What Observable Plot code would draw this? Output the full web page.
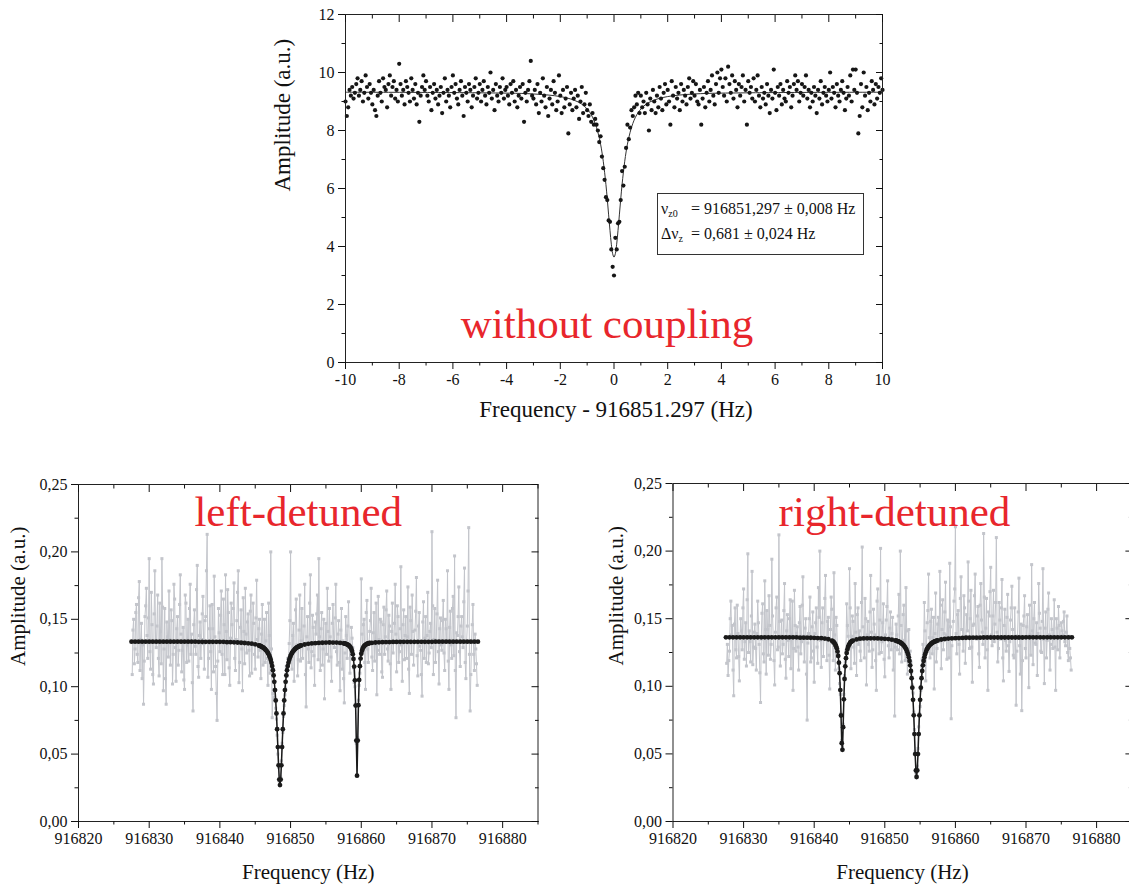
<!DOCTYPE html>
<html><head><meta charset="utf-8">
<script src="https://cdn.jsdelivr.net/npm/d3@7"></script>
<script src="https://cdn.jsdelivr.net/npm/@observablehq/plot@0.6"></script>
<style>
html,body{margin:0;padding:0;background:#fff;overflow:hidden;}
#page{position:relative;width:1129px;height:886px;overflow:hidden;background:#fff;font-family:'Liberation Serif','Times New Roman',serif;}
.panel{position:absolute;}
.panel svg{max-width:none !important;}
#box{position:absolute;left:657px;top:193px;width:205px;height:60px;border:1px solid #333;font-size:16px;color:#111;background:#fff;}
#box .ln{position:absolute;left:0;width:100%;height:16px;line-height:16px;white-space:nowrap;}
#box .lhs{position:absolute;left:3px;}
#box .rhs{position:absolute;left:33px;}
#box sub{font-size:10px;vertical-align:-3px;line-height:0;}
</style></head>
<body><div id="page">
<div id="top" class="panel" style="left:240px;top:0px;width:660px;height:430px"></div>
<div id="left" class="panel" style="left:0px;top:474px;width:560px;height:412px"></div>
<div id="right" class="panel" style="left:595px;top:474px;width:560px;height:412px"></div>
<div id="box">
 <div class="ln" style="top:7px"><span class="lhs">ν<sub>z0</sub></span><span class="rhs">= 916851,297 ± 0,008 Hz</span></div>
 <div class="ln" style="top:32px"><span class="lhs">Δν<sub>z</sub></span><span class="rhs">= 0,681 ± 0,024 Hz</span></div>
</div>
</div>
<script>
// ---------- top panel: without coupling ----------
const topFreqStart = -10, topFreqStep = 0.05;
const topAmp = [
9.0,8.5,8.8,9.4,9.2,9.5,9.1,9.3,9.6,9.8,9.2,9.4,9.7,9.0,9.3,9.9,9.5,9.1,9.6,9.3,
8.9,9.4,8.7,8.5,9.2,9.7,9.3,9.0,9.8,9.5,9.4,8.8,9.6,9.9,9.2,9.5,9.7,9.1,9.4,9.0,
10.3,9.6,9.2,9.4,8.9,9.7,9.5,9.3,9.0,9.8,9.4,9.1,9.6,8.9,9.3,8.3,9.2,9.5,9.9,9.4,
9.7,9.2,9.0,9.5,8.7,9.3,9.6,9.1,9.4,8.9,9.2,9.5,8.6,9.3,9.8,9.0,9.4,9.2,8.8,9.5,
9.9,9.3,9.6,9.1,8.9,9.4,9.7,9.2,8.5,9.5,9.3,9.0,9.6,9.4,8.8,9.2,9.5,9.8,9.1,9.3,
9.6,9.0,9.4,9.7,9.2,8.9,9.5,9.3,10.0,9.1,9.4,8.7,9.6,9.2,9.0,9.5,9.3,9.8,9.1,9.4,
9.5,9.2,8.9,9.6,9.3,9.7,9.0,9.4,8.8,9.2,9.5,9.1,9.6,8.3,9.3,9.0,9.4,9.7,10.4,9.2,
9.1,9.4,8.9,9.6,8.6,9.3,9.0,9.8,9.2,8.8,9.5,8.5,9.1,9.4,8.9,9.7,9.3,8.7,9.0,9.9,
9.2,8.6,9.4,8.8,9.1,9.5,7.9,8.9,9.3,8.7,9.1,9.4,8.8,9.2,8.4,9.0,9.5,8.6,8.9,9.3,
8.7,8.5,8.9,8.3,8.6,8.2,8.4,8.2,8.0,7.6,7.8,7.1,6.7,6.3,5.7,5.6,4.9,4.85,3.9,3.3,
3.0,4.3,3.9,4.8,4.85,5.6,6.6,6.1,6.75,7.4,8.2,7.7,8.1,8.7,8.5,8.8,9.2,8.9,9.3,8.6,
9.2,8.8,9.0,8.6,9.3,8.9,8.0,9.1,8.7,9.4,9.0,8.6,9.2,8.8,9.5,9.1,8.7,9.3,9.6,8.9,
9.4,9.0,8.2,9.7,9.2,8.8,9.5,9.1,9.3,8.7,9.6,9.0,9.4,9.2,8.9,9.5,9.8,9.1,9.3,9.7,
9.2,9.6,9.0,8.9,9.4,8.2,9.1,9.5,8.8,9.3,9.7,9.0,9.4,9.9,9.2,8.9,9.6,10.0,9.3,9.8,
10.1,9.5,9.2,9.8,9.0,10.2,9.6,9.3,9.9,9.1,9.7,9.4,8.8,9.6,9.2,9.5,9.9,9.0,9.4,8.2,
9.7,9.3,9.5,9.1,9.8,9.0,9.4,9.9,9.2,8.8,9.5,9.1,9.3,8.9,9.6,9.2,8.6,9.4,9.1,10.1,
9.3,8.7,9.5,9.2,9.6,8.9,9.4,9.1,9.0,9.7,9.3,9.5,8.8,9.2,9.6,9.9,9.4,9.7,9.0,9.3,
9.6,9.2,9.5,9.9,9.1,9.4,8.8,9.3,9.0,9.5,9.2,8.6,9.4,9.1,9.7,8.9,9.3,9.5,9.2,9.0,
9.4,10.0,9.1,9.5,9.3,8.8,9.6,9.2,9.0,9.4,9.7,9.3,8.7,9.1,9.5,9.2,9.9,9.0,10.1,9.4,
10.1,9.3,7.9,8.5,9.6,8.8,10.0,9.2,9.5,8.7,9.3,9.0,9.7,9.4,8.9,9.6,9.1,9.5,9.3,9.8,
9.4];
const topFitFreq = [-10,-5,-3,-2,-1.5,-1.2,-1,-0.9,-0.8,-0.7,-0.6,-0.5,-0.45,-0.4,-0.35,-0.3,-0.25,-0.2,-0.15,-0.1,-0.05,0,
0.05,0.1,0.15,0.2,0.25,0.3,0.35,0.4,0.45,0.5,0.6,0.7,0.8,0.9,1,1.2,1.5,2,3,5,10];
const topFitAmp = [9.32,9.30,9.26,9.17,9.05,8.91,8.74,8.62,8.46,8.24,7.94,7.53,7.26,6.94,6.56,6.13,5.63,5.09,4.56,4.08,3.75,3.63,
3.75,4.08,4.56,5.09,5.63,6.13,6.56,6.94,7.26,7.53,7.94,8.24,8.46,8.62,8.74,8.91,9.05,9.17,9.26,9.30,9.32];

// ---------- bottom panels: detuned (sweep 916827.6 Hz, 0.1 Hz steps) ----------
const detFreqStart = 916827.6, detFreqStep = 0.1;
const leftAmp = [
0.109,0.142,0.150,0.117,0.128,0.155,0.161,0.124,0.118,0.166,0.178,0.112,0.135,0.147,0.106,0.131,0.087,0.119,0.152,0.160,
0.173,0.138,0.121,0.151,0.195,0.126,0.113,0.170,0.146,0.109,0.102,0.154,0.186,0.133,0.129,0.145,0.168,0.121,0.108,0.162,
0.141,0.117,0.195,0.159,0.097,0.128,0.158,0.106,0.087,0.148,0.137,0.122,0.171,0.135,0.116,0.157,0.149,0.102,0.124,0.176,
0.165,0.129,0.104,0.143,0.152,0.116,0.127,0.161,0.183,0.139,0.111,0.127,0.144,0.105,0.098,0.168,0.162,0.118,0.131,0.150,
0.119,0.158,0.176,0.124,0.139,0.103,0.082,0.146,0.157,0.130,0.124,0.172,0.190,0.115,0.107,0.138,0.148,0.121,0.135,0.154,
0.167,0.132,0.113,0.149,0.152,0.186,0.213,0.107,0.121,0.143,0.160,0.126,0.098,0.161,0.143,0.111,0.182,0.137,0.115,0.095,
0.075,0.119,0.158,0.140,0.126,0.153,0.171,0.124,0.109,0.165,0.146,0.109,0.183,0.141,0.120,0.172,0.155,0.114,0.101,0.136,
0.162,0.146,0.134,0.158,0.177,0.121,0.112,0.135,0.149,0.170,0.186,0.103,0.118,0.144,0.157,0.128,0.097,0.166,0.141,0.117,
0.173,0.139,0.125,0.148,0.154,0.127,0.108,0.156,0.168,0.110,0.131,0.162,0.147,0.124,0.113,0.151,0.179,0.135,0.122,0.143,
0.150,0.127,0.106,0.139,0.161,0.116,0.128,0.150,0.118,0.134,0.155,0.121,0.101,0.162,0.138,0.110,0.200,0.128,0.077,0.095,
0.098,0.092,0.090,0.084,0.076,0.064,0.050,0.040,0.030,0.027,0.033,0.045,0.058,0.066,0.078,0.086,0.094,0.099,0.115,0.108,
0.121,0.117,0.132,0.149,0.200,0.125,0.113,0.138,0.147,0.104,0.126,0.157,0.165,0.131,0.108,0.120,0.142,0.168,0.119,0.134,
0.158,0.121,0.131,0.145,0.176,0.109,0.085,0.137,0.152,0.128,0.118,0.162,0.183,0.114,0.126,0.153,0.144,0.123,0.101,0.148,
0.139,0.154,0.168,0.120,0.195,0.137,0.112,0.143,0.155,0.116,0.128,0.150,0.091,0.132,0.147,0.124,0.173,0.141,0.119,0.158,
0.137,0.122,0.104,0.147,0.161,0.133,0.129,0.151,0.176,0.126,0.116,0.139,0.149,0.118,0.097,0.142,0.158,0.113,0.134,0.106,
0.088,0.125,0.152,0.138,0.121,0.145,0.163,0.131,0.110,0.127,0.144,0.136,0.129,0.114,0.103,0.100,0.087,0.058,0.034,0.062,
0.090,0.101,0.110,0.125,0.180,0.139,0.126,0.146,0.150,0.118,0.098,0.155,0.164,0.128,0.118,0.133,0.141,0.149,0.173,0.122,
0.112,0.140,0.155,0.119,0.131,0.162,0.094,0.127,0.167,0.135,0.124,0.150,0.148,0.111,0.107,0.146,0.159,0.124,0.137,0.157,
0.171,0.128,0.119,0.153,0.145,0.117,0.098,0.141,0.162,0.125,0.133,0.147,0.176,0.139,0.111,0.160,0.152,0.118,0.126,0.143,
0.189,0.131,0.104,0.146,0.157,0.120,0.138,0.152,0.121,0.137,0.174,0.113,0.095,0.159,0.149,0.124,0.168,0.141,0.116,0.133,
0.142,0.156,0.181,0.123,0.108,0.145,0.155,0.130,0.127,0.109,0.093,0.148,0.163,0.121,0.136,0.152,0.118,0.138,0.170,0.117,
0.125,0.141,0.147,0.129,0.215,0.160,0.109,0.135,0.158,0.118,0.133,0.154,0.179,0.126,0.102,0.143,0.151,0.131,0.127,0.149,
0.164,0.125,0.112,0.150,0.143,0.134,0.186,0.119,0.098,0.144,0.156,0.131,0.121,0.158,0.167,0.123,0.197,0.112,0.077,0.140,
0.138,0.152,0.174,0.126,0.115,0.145,0.152,0.137,0.129,0.163,0.188,0.118,0.106,0.133,0.145,0.171,0.218,0.124,0.082,0.109,
0.133,0.146,0.161,0.124,0.112,0.139,0.128,0.117,0.101];
const rightAmp = [
0.117,0.131,0.108,0.119,0.126,0.150,0.163,0.138,0.145,0.112,0.093,0.146,0.158,0.127,0.121,0.160,0.139,0.122,0.104,0.137,
0.150,0.141,0.127,0.158,0.172,0.120,0.133,0.147,0.115,0.164,0.198,0.125,0.141,0.133,0.118,0.152,0.185,0.116,0.129,0.140,
0.146,0.128,0.112,0.139,0.163,0.147,0.131,0.110,0.088,0.135,0.154,0.161,0.124,0.118,0.178,0.142,0.109,0.156,0.142,0.123,
0.167,0.145,0.120,0.131,0.194,0.152,0.136,0.119,0.101,0.140,0.158,0.166,0.127,0.129,0.212,0.148,0.115,0.137,0.149,0.124,
0.131,0.156,0.176,0.120,0.106,0.141,0.153,0.134,0.122,0.150,0.164,0.113,0.138,0.163,0.097,0.128,0.171,0.145,0.126,0.139,
0.144,0.129,0.112,0.147,0.159,0.124,0.133,0.160,0.181,0.137,0.118,0.143,0.150,0.109,0.075,0.132,0.139,0.150,0.166,0.118,
0.121,0.144,0.155,0.126,0.103,0.139,0.147,0.158,0.129,0.117,0.173,0.151,0.200,0.134,0.114,0.147,0.158,0.122,0.136,0.165,
0.182,0.135,0.119,0.148,0.151,0.123,0.098,0.142,0.166,0.157,0.132,0.119,0.184,0.138,0.112,0.151,0.145,0.126,0.124,0.113,
0.102,0.094,0.080,0.060,0.055,0.072,0.094,0.108,0.118,0.126,0.161,0.145,0.137,0.129,0.187,0.158,0.113,0.137,0.152,0.148,
0.129,0.117,0.176,0.140,0.108,0.153,0.158,0.131,0.141,0.126,0.119,0.162,0.203,0.144,0.135,0.121,0.165,0.150,0.101,0.138,
0.148,0.131,0.126,0.155,0.182,0.140,0.114,0.127,0.157,0.146,0.138,0.119,0.097,0.163,0.172,0.136,0.124,0.149,0.202,0.125,
0.133,0.147,0.161,0.120,0.107,0.138,0.149,0.159,0.178,0.130,0.121,0.143,0.155,0.127,0.139,0.151,0.112,0.134,0.078,0.129,
0.146,0.138,0.127,0.152,0.168,0.124,0.200,0.145,0.118,0.133,0.153,0.160,0.134,0.119,0.173,0.141,0.109,0.128,0.142,0.122,
0.126,0.118,0.110,0.101,0.095,0.081,0.068,0.052,0.036,0.033,0.041,0.054,0.070,0.080,0.085,0.097,0.115,0.120,0.131,0.127,
0.162,0.141,0.104,0.129,0.147,0.156,0.183,0.136,0.121,0.148,0.157,0.124,0.136,0.151,0.098,0.139,0.169,0.118,0.128,0.146,
0.151,0.133,0.185,0.160,0.113,0.142,0.164,0.127,0.139,0.155,0.177,0.138,0.120,0.149,0.148,0.121,0.191,0.144,0.076,0.130,
0.135,0.148,0.163,0.172,0.218,0.139,0.124,0.153,0.156,0.131,0.109,0.165,0.181,0.142,0.142,0.126,0.167,0.158,0.117,0.137,
0.153,0.141,0.192,0.163,0.128,0.150,0.171,0.129,0.103,0.145,0.146,0.167,0.183,0.136,0.135,0.152,0.159,0.124,0.114,0.160,
0.176,0.149,0.140,0.131,0.213,0.166,0.121,0.143,0.165,0.127,0.097,0.155,0.152,0.170,0.188,0.138,0.130,0.152,0.171,0.133,
0.146,0.162,0.210,0.140,0.118,0.128,0.162,0.149,0.135,0.158,0.179,0.121,0.104,0.145,0.157,0.134,0.126,0.151,0.168,0.130,
0.111,0.133,0.149,0.158,0.174,0.142,0.123,0.121,0.158,0.137,0.086,0.126,0.137,0.155,0.180,0.130,0.109,0.146,0.082,0.119,
0.145,0.152,0.167,0.128,0.121,0.144,0.153,0.137,0.099,0.160,0.138,0.123,0.190,0.141,0.116,0.150,0.162,0.132,0.131,0.147,
0.108,0.139,0.176,0.154,0.143,0.126,0.125,0.148,0.187,0.135,0.102,0.143,0.155,0.121,0.134,0.157,0.169,0.138,0.112,0.131,
0.150,0.142,0.128,0.137,0.164,0.129,0.097,0.150,0.143,0.127,0.159,0.145,0.121,0.136,0.147,0.141,0.138,0.148,0.155,0.133,
0.130,0.140,0.152,0.125,0.119,0.137,0.128,0.121,0.112];

const leftFitFreq = [
916827.5,916828,916828.5,916829,916829.5,916830,916830.5,916831,916831.5,916832,916832.5,916833,916833.5,916834,916834.5,916835,916835.5,916836,916836.5,
916837,916837.5,916838,916838.5,916839,916839.5,916840,916840.5,
916841,916841.5,916842,916842.5,916843,916843.5,916844,916844.5,916845,916845.5,
916845.6,916845.7,916845.8,916845.9,
916846,916846.1,916846.2,916846.3,916846.4,916846.5,916846.6,916846.7,916846.8,916846.9,
916847,916847.1,916847.2,916847.3,916847.4,916847.5,916847.6,916847.7,916847.8,916847.9,
916848,916848.1,916848.2,916848.3,916848.4,916848.5,916848.6,916848.7,916848.8,916848.9,
916849,916849.1,916849.2,916849.3,916849.4,916849.5,916849.6,916849.7,916849.8,916849.9,
916850,916850.1,916850.2,916850.3,916850.4,916850.5,916850.6,916850.7,916850.8,916850.9,
916851,916851.1,916851.2,916851.3,916851.4,
916851.5,916852,916852.5,916853,916853.5,916854,916854.5,916855,916855.5,916856,916856.5,916857,916857.5,
916857.6,916857.7,916857.8,916857.9,
916858,916858.1,916858.2,916858.3,916858.4,916858.5,916858.6,916858.7,916858.8,916858.9,
916859,916859.1,916859.2,916859.3,916859.4,916859.5,916859.6,916859.7,916859.8,916859.9,
916860,916860.1,916860.2,916860.3,916860.4,916860.5,916860.6,916860.7,916860.8,916860.9,
916861,916861.1,916861.2,
916861.5,916862,916862.5,916863,916863.5,916864,916864.5,916865,
916865.5,916866,916866.5,916867,916867.5,916868,916868.5,916869,916869.5,916870,
916870.5,916871,916871.5,916872,916872.5,916873,916873.5,916874,916874.5,916875,916875.5,916876,916876.5];
const leftFitAmp = [
0.1334,0.1334,0.1334,0.1334,0.1334,0.1334,0.1334,0.1334,0.1334,0.1334,0.1334,0.1334,0.1334,0.1334,0.1334,0.1334,0.1334,0.1334,0.1334,
0.1333,0.1333,0.1333,0.1333,0.1333,0.1333,0.1333,0.1333,
0.1330,0.1330,0.1329,0.1328,0.1326,0.1324,0.1322,0.1319,0.1314,0.1306,
0.1304,0.1302,0.1300,0.1297,
0.1294,0.1291,0.1287,0.1283,0.1278,0.1272,0.1266,0.1259,0.1250,0.1240,
0.1228,0.1215,0.1198,0.1177,0.1153,0.1122,0.1084,0.1036,0.0975,0.0898,
0.0802,0.0685,0.0552,0.0417,0.0311,0.0270,0.0311,0.0417,0.0552,0.0685,
0.0802,0.0898,0.0975,0.1036,0.1084,0.1122,0.1153,0.1177,0.1198,0.1215,
0.1228,0.1240,0.1250,0.1259,0.1266,0.1272,0.1278,0.1283,0.1287,0.1291,
0.1294,0.1297,0.1300,0.1302,0.1304,
0.1306,0.1313,0.1318,0.1321,0.1323,0.1325,0.1326,0.1327,0.1328,0.1327,0.1327,0.1325,0.1322,
0.1321,0.1320,0.1318,0.1316,
0.1314,0.1311,0.1308,0.1303,0.1297,0.1290,0.1279,0.1264,0.1241,0.1206,
0.1149,0.1047,0.0860,0.0600,0.0340,0.0600,0.0863,0.1050,0.1152,0.1209,
0.1244,0.1267,0.1282,0.1293,0.1300,0.1306,0.1311,0.1314,0.1317,0.1319,
0.1321,0.1323,0.1324,
0.1325,0.1328,0.1329,0.1330,0.1331,0.1331,0.1332,0.1332,
0.1333,0.1333,0.1333,0.1333,0.1333,0.1333,0.1333,0.1333,0.1333,0.1333,
0.1334,0.1334,0.1334,0.1334,0.1334,0.1334,0.1334,0.1334,0.1334,0.1334,0.1334,0.1334,0.1334];

const rightFitFreq = [
916827.5,916828,916828.5,916829,916829.5,916830,916830.5,916831,916831.5,916832,916832.5,916833,916833.5,916834,916834.5,916835,916835.5,916836,916836.5,916837,916837.5,
916838,916838.5,916839,916839.5,916840,916840.5,916841,916841.5,916842,916842.5,
916842.6,916842.7,916842.8,916842.9,
916843,916843.1,916843.2,916843.3,916843.4,916843.5,916843.6,916843.7,916843.8,916843.9,
916844,916844.1,916844.2,916844.3,916844.4,916844.5,916844.6,916844.7,916844.8,916844.9,
916845,916845.1,916845.2,916845.3,916845.4,
916845.5,916846,916846.5,916847,916847.5,916848,916848.5,916849,916849.5,916850,916850.5,916851,916851.5,
916851.6,916851.7,916851.8,916851.9,
916852,916852.1,916852.2,916852.3,916852.4,916852.5,916852.6,916852.7,916852.8,916852.9,
916853,916853.1,916853.2,916853.3,916853.4,916853.5,916853.6,916853.7,916853.8,916853.9,
916854,916854.1,916854.2,916854.3,916854.4,916854.5,916854.6,916854.7,916854.8,916854.9,
916855,916855.1,916855.2,916855.3,916855.4,916855.5,916855.6,916855.7,916855.8,916855.9,
916856,916856.1,916856.2,916856.3,916856.4,916856.5,916856.6,916856.7,916856.8,916856.9,
916857,916857.1,916857.2,916857.3,916857.4,
916857.5,916858,916858.5,916859,916859.5,916860,916860.5,916861,916861.5,916862,916862.5,916863,916863.5,
916864,916864.5,916865,916865.5,916866,916866.5,916867,916867.5,916868,916868.5,916869,916869.5,
916870,916870.5,916871,916871.5,916872,916872.5,916873,916873.5,916874,916874.5,916875,916875.5,916876,916876.5];
const rightFitAmp = [
0.1362,0.1362,0.1362,0.1362,0.1362,0.1362,0.1362,0.1362,0.1362,0.1362,0.1362,0.1362,0.1362,0.1362,0.1362,0.1362,0.1362,0.1362,0.1362,0.1362,0.1362,
0.1360,0.1360,0.1360,0.1359,0.1358,0.1357,0.1356,0.1353,0.1348,0.1338,
0.1334,0.1330,0.1324,0.1317,
0.1308,0.1297,0.1281,0.1258,0.1225,0.1175,0.1097,0.0972,0.0784,0.0579,
0.0530,0.0698,0.0904,0.1054,0.1148,0.1208,0.1246,0.1273,0.1291,0.1304,
0.1314,0.1322,0.1328,0.1332,0.1336,
0.1338,0.1347,0.1352,0.1354,0.1355,0.1355,0.1355,0.1354,0.1353,0.1351,0.1349,0.1345,0.1339,
0.1337,0.1336,0.1334,0.1332,
0.1330,0.1327,0.1324,0.1320,0.1317,0.1312,0.1307,0.1301,0.1294,0.1286,
0.1277,0.1265,0.1251,0.1235,0.1214,0.1188,0.1155,0.1113,0.1060,0.0990,
0.0900,0.0785,0.0647,0.0499,0.0378,0.0329,0.0378,0.0499,0.0647,0.0785,
0.0900,0.0990,0.1060,0.1113,0.1155,0.1188,0.1214,0.1235,0.1251,0.1265,
0.1277,0.1286,0.1294,0.1301,0.1307,0.1312,0.1317,0.1320,0.1324,0.1327,
0.1330,0.1332,0.1334,0.1336,0.1338,
0.1340,0.1346,0.1350,0.1353,0.1355,0.1356,0.1357,0.1358,0.1359,0.1359,0.1360,0.1360,0.1360,
0.1361,0.1361,0.1361,0.1361,0.1361,0.1361,0.1361,0.1361,0.1361,0.1361,0.1361,0.1361,
0.1362,0.1362,0.1362,0.1362,0.1362,0.1362,0.1362,0.1362,0.1362,0.1362,0.1362,0.1362,0.1362,0.1362];

// ---------- ticks & texts ----------
const topXTicks = [-10,-8,-6,-4,-2,0,2,4,6,8,10];
const topXMinor = [-9,-7,-5,-3,-1,1,3,5,7,9];
const topYTicks = [0,2,4,6,8,10,12];
const topYMinor = [1,3,5,7,9,11];
const detXTicks = [916820,916830,916840,916850,916860,916870,916880];
const detXMinor = [916825,916835,916845,916855,916865,916875,916885];
const detYTicks = [0,0.05,0.10,0.15,0.20,0.25];
const detYMinor = [0.025,0.075,0.125,0.175,0.225];
const yTitle = "Amplitude (a.u.)";
const topXTitle = "Frequency - 916851.297 (Hz)";
const detXTitle = "Frequency (Hz)";
const panelLabels = ["without coupling", "left-detuned", "right-detuned"];

// ---------- drawing ----------
const serif = "'Liberation Serif','Times New Roman',serif";
const red = "#e8262c";
const gray = "#c3c5cb";
const blank = () => "";
const commaFmt = d => d.toFixed(2).replace(".", ",");

function zip(fs, as) {
  const n = Math.min(fs.length, as.length);
  const out = [];
  for (let i = 0; i < n; i++) out.push({f: fs[i], a: as[i]});
  return out;
}
function sweep(start, step, as) {
  return as.map((a, i) => ({f: +(start + i * step).toFixed(3), a}));
}
function axes(xt, xm, yt, ym, xf, yf) {
  const t = {label: null, fontFamily: serif};
  return [
    Plot.axisX({...t, anchor: "bottom", ticks: xt, tickSize: 7, tickPadding: 4, tickFormat: xf, fontSize: 16}),
    Plot.axisX({...t, anchor: "bottom", ticks: xm, tickSize: 3.5, tickFormat: blank}),
    Plot.axisX({...t, anchor: "top", ticks: xt, tickSize: -7, tickFormat: blank}),
    Plot.axisX({...t, anchor: "top", ticks: xm, tickSize: -3.5, tickFormat: blank}),
    Plot.axisY({...t, anchor: "left", ticks: yt, tickSize: 7, tickPadding: 4, tickFormat: yf, fontSize: 16}),
    Plot.axisY({...t, anchor: "left", ticks: ym, tickSize: 3.5, tickFormat: blank}),
    Plot.axisY({...t, anchor: "right", ticks: yt, tickSize: -7, tickFormat: blank}),
    Plot.axisY({...t, anchor: "right", ticks: ym, tickSize: -3.5, tickFormat: blank})
  ];
}
const svgStyle = {fontFamily: serif, fontSize: "16px", color: "#111", background: "transparent", maxWidth: "none"};

// top
const topData = sweep(topFreqStart, topFreqStep, topAmp);
const topFit = zip(topFitFreq, topFitAmp);
const topPlot = Plot.plot({
  width: 660, height: 430,
  marginLeft: 105, marginRight: 18, marginTop: 14, marginBottom: 68,
  style: svgStyle,
  x: {domain: [-10, 10]},
  y: {domain: [0, 12]},
  marks: [
    Plot.line(topFit, {x: "f", y: "a", stroke: "#333", strokeWidth: 1, curve: "catmull-rom"}),
    Plot.dot(topData, {x: "f", y: "a", r: 2.1, fill: "#161616", stroke: "none"}),
    Plot.frame({stroke: "#222"}),
    ...axes(topXTicks, topXMinor, topYTicks, topYMinor, d => String(d), d => String(d)),
    Plot.text([yTitle], {text: d => d, frameAnchor: "left", rotate: -90, dx: -63, dy: 3, fontSize: 23, fontFamily: serif}),
    Plot.text([topXTitle], {text: d => d, frameAnchor: "bottom", lineAnchor: "middle", dx: 2, dy: 47, fontSize: 23, fontFamily: serif}),
    Plot.text([panelLabels[0]], {text: d => d, frameAnchor: "bottom", lineAnchor: "bottom", dx: -7, dy: -25, fontSize: 43, fill: red, fontFamily: serif})
  ]
});
document.getElementById("top").append(topPlot);

function detPanel(amp, fitF, fitA, label, o) {
  const data = sweep(detFreqStart, detFreqStep, amp);
  const fit = zip(fitF, fitA);
  return Plot.plot({
    width: 560, height: 412,
    marginLeft: o.ml, marginRight: o.mr, marginTop: o.mt, marginBottom: 65,
    style: svgStyle,
    x: {domain: [916820, 916885]},
    y: {domain: [0, 0.25]},
    marks: [
      Plot.line(data, {x: "f", y: "a", stroke: gray, strokeWidth: 1}),
      Plot.dot(data, {x: "f", y: "a", symbol: "square", r: 1.7, fill: gray, stroke: "none"}),
      Plot.line(fit, {x: "f", y: "a", stroke: "#1a1a1a", strokeWidth: 1.5}),
      Plot.dot(fit, {x: "f", y: "a", r: 2.4, fill: "#1a1a1a", stroke: "none"}),
      Plot.frame({stroke: "#222"}),
      ...axes(detXTicks, detXMinor, detYTicks, detYMinor, d => String(d), commaFmt),
      Plot.text([yTitle], {text: d => d, frameAnchor: "left", rotate: -90, dx: o.ydx, dy: 13, fontSize: 21, fontFamily: serif}),
      Plot.text([detXTitle], {text: d => d, frameAnchor: "bottom", lineAnchor: "middle", dy: 51, fontSize: 21, fontFamily: serif}),
      Plot.text([label], {text: d => d, frameAnchor: "top", lineAnchor: "bottom", dx: o.ldx, dy: 41 + (10 - o.mt), fontSize: 43, fill: red, fontFamily: serif})
    ]
  });
}
document.getElementById("left").append(detPanel(leftAmp, leftFitFreq, leftFitAmp, panelLabels[1], {ml: 78, mr: 22.5, mt: 10, ydx: -60, ldx: -10}));
document.getElementById("right").append(detPanel(rightAmp, rightFitFreq, rightFitAmp, panelLabels[2], {ml: 77.5, mr: 23.6, mt: 9, ydx: -56.5, ldx: -8}));
</script>
</body></html>
